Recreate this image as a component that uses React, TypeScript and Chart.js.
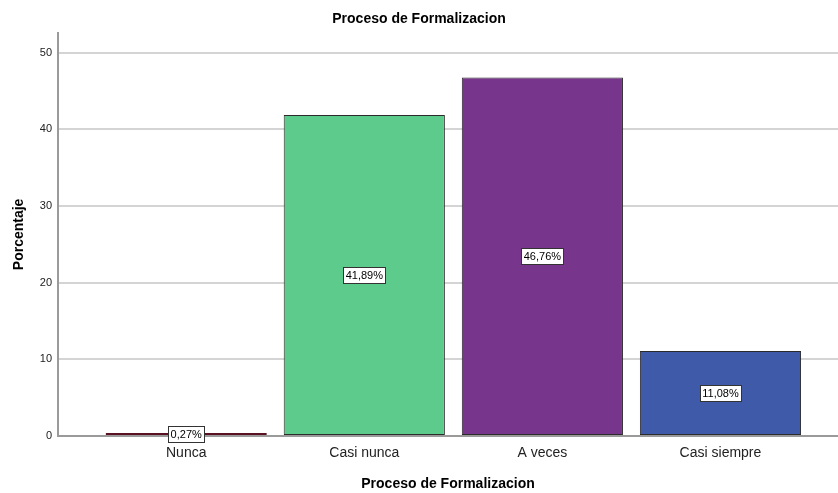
import React, { useEffect, useRef } from "react";
import { Chart, registerables } from "chart.js";

Chart.register(...registerables);

const categories = ["Nunca", "Casi nunca", "A veces", "Casi siempre"];
const percentages = [0.27, 41.89, 46.76, 11.08];
const barColors = ["#761a2f", "#5dcb8b", "#77368c", "#3e5aa8"];
const barBorders = ["#5a1223", "#2b2b2b", "#2b2b2b", "#2b2b2b"];
const yTicks = [0, 10, 20, 30, 40, 50];

const FONT = "'Liberation Sans', Arial, sans-serif";

const labelPlugin = {
  id: "boxLabels",
  afterDatasetsDraw(chart: any) {
    const ctx = chart.ctx;
    const meta = chart.getDatasetMeta(0);
    ctx.save();
    ctx.font = `11px ${FONT}`;
    ctx.textAlign = "center";
    ctx.textBaseline = "middle";
    meta.data.forEach((bar: any, i: number) => {
      const text = percentages[i].toFixed(2).replace(".", ",") + "%";
      const cx = bar.x;
      const cy = (bar.y + bar.base) / 2;
      const w = Math.round(ctx.measureText(text).width + 5);
      const h = 16;
      const x0 = Math.round(cx - w / 2) + 0.5;
      const y0 = Math.round(cy - h / 2) + 0.5;
      ctx.fillStyle = "#ffffff";
      ctx.fillRect(x0, y0, w, h);
      ctx.strokeStyle = "#333333";
      ctx.lineWidth = 1;
      ctx.strokeRect(x0, y0, w, h);
      ctx.fillStyle = "#000000";
      ctx.fillText(text, cx, cy + 1);
    });
    ctx.restore();
  },
};

export default function App() {
  const ref = useRef<HTMLCanvasElement | null>(null);
  useEffect(() => {
    document.body.style.margin = "0";
    const chart = new Chart(ref.current as HTMLCanvasElement, {
      type: "bar",
      data: {
        datasets: [
          {
            data: percentages.map((v, i) => ({ x: i, y: v })),
            backgroundColor: barColors,
            borderColor: barBorders,
            borderWidth: 1,
            borderSkipped: false,
            categoryPercentage: 0.905,
            barPercentage: 1,
            minBarLength: 3,
          },
        ],
      },
      options: {
        animation: false,
        responsive: false,
        maintainAspectRatio: false,
        layout: { padding: { left: 0, right: 0, top: 0, bottom: 0 } },
        plugins: {
          legend: { display: false },
          tooltip: { enabled: false },
          title: {
            display: true,
            text: "Proceso de Formalizacion",
            color: "#000",
            font: { family: FONT, size: 14, weight: "bold" },
            padding: { top: 11, bottom: 5 },
          },
        },
        scales: {
          x: {
            type: "linear",
            offset: false,
            bounds: "ticks",
            min: -0.72,
            max: 3.66,
            afterBuildTicks: (scale: any) => {
              scale.ticks = categories.map((_, i) => ({ value: i }));
            },
            afterFit: (scale: any) => {
              scale.height = 57;
            },
            ticks: {
              callback: (v: any) => categories[v] ?? "",
              color: "#222",
              font: { family: FONT, size: 14 },
              padding: 9,
              autoSkip: false,
              maxRotation: 0,
            },
            grid: { display: false, drawTicks: false },
            border: { display: true, color: "#9a9a9a", width: 2 },
            title: {
              display: true,
              text: "Proceso de Formalizacion",
              color: "#000",
              font: { family: FONT, size: 14, weight: "bold" },
              padding: { top: 6, bottom: 0 },
            },
          },
          y: {
            min: 0,
            max: 52.6,
            afterBuildTicks: (scale: any) => {
              scale.ticks = yTicks.map((v) => ({ value: v }));
            },
            afterFit: (scale: any) => {
              scale.width = 58;
            },
            ticks: {
              color: "#222",
              font: { family: FONT, size: 11 },
              padding: 6,
            },
            grid: { color: "#d4d4d4", lineWidth: 2, drawTicks: false },
            border: { display: true, color: "#9a9a9a", width: 2 },
            title: {
              display: true,
              text: "Porcentaje",
              color: "#000",
              font: { family: FONT, size: 14, weight: "bold" },
              padding: { top: 11, bottom: 4 },
            },
          },
        },
      },
      plugins: [labelPlugin],
    } as any);
    return () => chart.destroy();
  }, []);
  return (
    <div style={{ position: "absolute", left: 0, top: 0, width: 838, height: 493 }}>
      <canvas ref={ref} width={838} height={493} style={{ width: 838, height: 493 }} />
    </div>
  );
}
